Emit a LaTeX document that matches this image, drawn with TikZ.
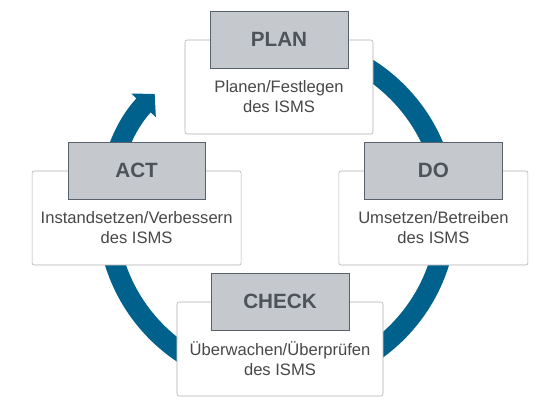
\documentclass[tikz,border=0pt]{standalone}
\usepackage{fontspec}
\setmainfont{Liberation Sans}
\usepackage{tikz}
\usetikzlibrary{arrows.meta,positioning,calc}

\definecolor{ringblue}{RGB}{0,98,140}
\definecolor{headgray}{RGB}{197,200,204}
\definecolor{headline}{RGB}{88,98,108}
\definecolor{headtext}{RGB}{77,83,89}
\definecolor{cardline}{RGB}{175,175,175}
\definecolor{desctext}{RGB}{72,72,72}

\begin{document}
\begin{tikzpicture}[
  card/.style={rectangle,draw=cardline,fill=white,rounded corners=0.05cm,minimum width=#1,minimum height=2.35cm,inner sep=0pt},
  phase/.style={rectangle,draw=headline,fill=headgray,minimum width=3.44cm,minimum height=1.43cm,font=\fontsize{14.7}{17}\selectfont\bfseries,text=headtext},
  desc/.style={align=center,inner sep=0pt,font=\fontsize{11.8}{14.2}\selectfont,text=desctext},
  ringarrow/.style={line width=0.5cm,draw=ringblue,-{Triangle[width=0.83cm,length=0.4cm]}},
]
\useasboundingbox (-6.925,-4.875) rectangle (7.075,5.3);

% the cycle behind the cards
\coordinate (hub) at (0,0);
\draw[ringarrow] (hub) ++(95:4.25) arc[start angle=95,end angle=-224,radius=4.25];

\node[card=4.7cm] (plan-card) at (0.05,3.125) {};
\node[card=5.225cm] (act-card) at (-3.51,-0.15) {};
\node[card=4.725cm] (do-card) at (3.91,-0.15) {};
\node[card=5.15cm] (check-card) at (0.075,-3.425) {};

\node[phase] (plan) at (plan-card.north) {PLAN};
\node[phase] (act) at (act-card.north) {ACT};
\node[phase] (do) at (do-card.north) {DO};
\node[phase] (check) at (check-card.north) {CHECK};

\node[desc,below=0.28cm of plan] (plan-desc) {Planen/Festlegen\\des ISMS};
\node[desc,below=0.28cm of act] (act-desc) {Instandsetzen/Verbessern\\des ISMS};
\node[desc,below=0.28cm of do] (do-desc) {Umsetzen/Betreiben\\des ISMS};
\node[desc,below=0.28cm of check] (check-desc) {Überwachen/Überprüfen\\des ISMS};

\end{tikzpicture}
\end{document}
